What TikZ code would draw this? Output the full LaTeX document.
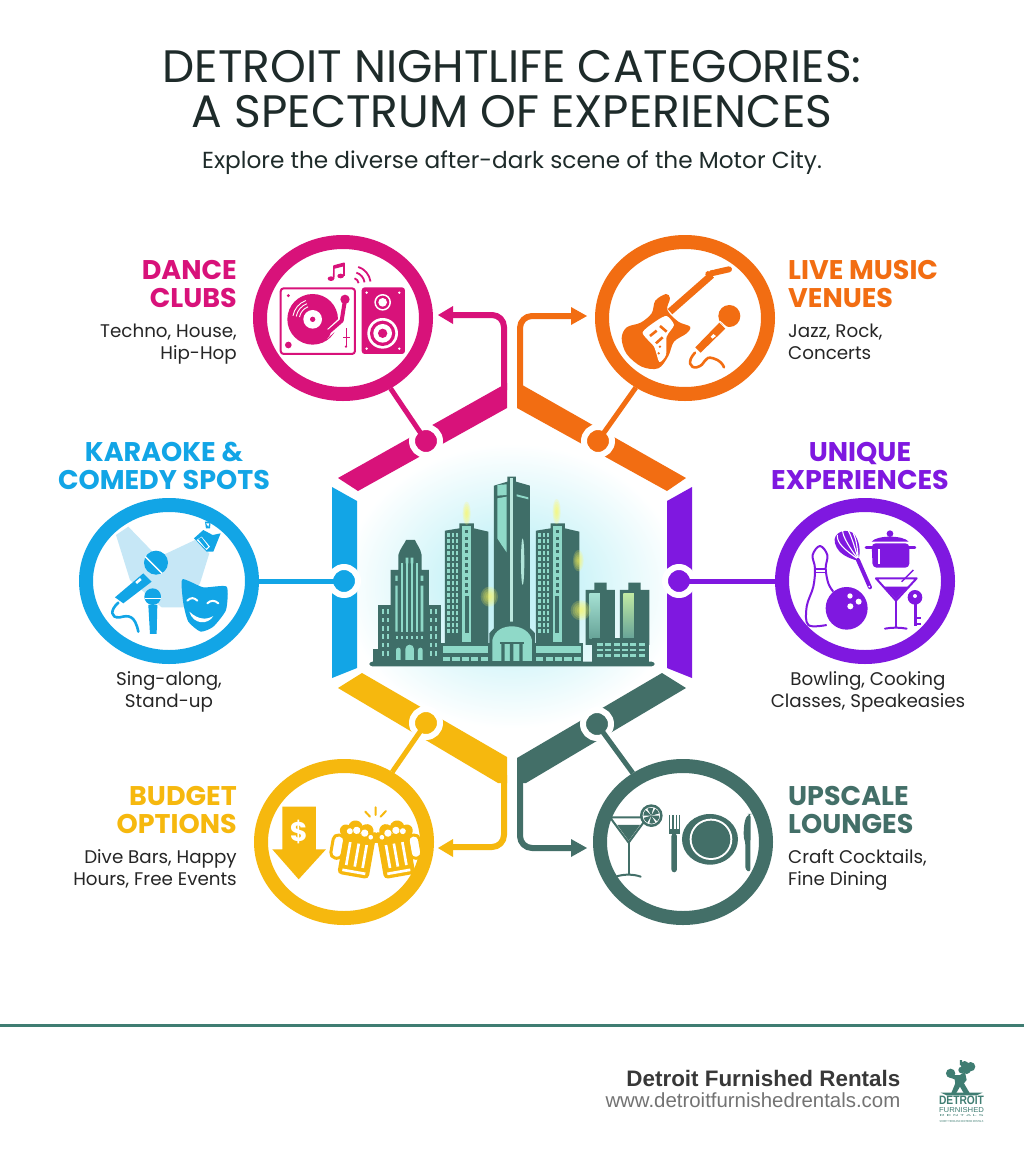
\documentclass[tikz,border=0pt]{standalone}
\usepackage{fontspec}
\usepackage{graphicx}
\usetikzlibrary{shapes.geometric}
\setmainfont{Poppins}
\newfontfamily\footfont{Liberation Sans}
\definecolor{cMag}{HTML}{D8127A}
\definecolor{cOra}{HTML}{F26D12}
\definecolor{cBlu}{HTML}{12A5E6}
\definecolor{cPur}{HTML}{7F18E0}
\definecolor{cYel}{HTML}{F6B80E}
\definecolor{cGrn}{HTML}{436F68}
\definecolor{cTeal}{HTML}{3F6E68}
\definecolor{cLite}{HTML}{8FD9C8}
\definecolor{cBeam}{HTML}{C6E7F6}
\definecolor{cTitle}{HTML}{1E2B2A}
\definecolor{cFoot}{HTML}{3F7D72}
\pgfdeclareradialshading{cityglow}{\pgfpoint{0bp}{0bp}}{rgb(0bp)=(0.76,0.95,0.97);rgb(7bp)=(0.78,0.95,0.97);rgb(15bp)=(0.89,0.975,0.985);rgb(23bp)=(1,1,1);rgb(50bp)=(1,1,1)}
\newcommand{\fs}[1]{\fontsize{#1}{#1}\selectfont}
\newcommand{\sparkle}[4]{\foreach \f in {1,0.8,0.6,0.4,0.2}{\fill[yellow!65!white,opacity=0.2] (#1,#2) ellipse [x radius=\f*#3,y radius=\f*#4];}}
\tikzset{
  ring/.style={ellipse,draw=#1,line width=14pt,fill=white,minimum width=166pt,minimum height=152pt,inner sep=0pt},
  hub/.style={circle,fill=#1,draw=white,line width=6pt,minimum size=28pt,inner sep=0pt},
  band/.style={fill=#1},
  link/.style={draw=#1,line width=5pt},
  flow/.style={draw=#1,line width=6pt,rounded corners=12pt},
  head/.style={fill=#1},
  caphead/.style={inner sep=0pt,font={\fontsize{27}{28}\selectfont\bfseries},text=#1},
  body/.style={inner sep=0pt,font={\fontsize{18.3}{22}\selectfont},text=black!85,align=#1},
  tr/.style={shift={#1},x=0.3333pt,y=-0.3333pt},
}
\begin{document}
\begin{tikzpicture}[x=1pt,y=-1pt,line join=round]
\useasboundingbox (0,0) rectangle (1024,1154);
\fill[white] (0,0) rectangle (1024,1154);

% glow
\shade[shading=cityglow] (512,586) ellipse [x radius=185,y radius=155];

% title
\node[inner sep=0pt,anchor=north,align=center,text=cTitle,font={\fontsize{45.5}{45}\selectfont}] (title) at (512,50) {DETROIT NIGHTLIFE CATEGORIES:\\A SPECTRUM OF EXPERIENCES};
\node[inner sep=0pt,anchor=base,text=cTitle,font=\fs{23.2}] (subtitle) at (512,168.5) {Explore the diverse after-dark scene of the Motor City.};

% hexagon bands
\fill[band=cMag] (338,478) -- (507,383) -- (507,408) -- (358,491) -- cycle;
\fill[band=cOra] (517,382) -- (686,478) -- (667,491) -- (517,408) -- cycle;
\fill[band=cPur] (692,487) -- (692,678) -- (667,668) -- (667,501) -- cycle;
\fill[band=cBlu] (332,487) -- (357,501) -- (357,668) -- (332,678) -- cycle;
\fill[band=cYel] (338,688) -- (362,673) -- (507,757) -- (507,783) -- (498,783) -- cycle;
\fill[band=cGrn] (517,758) -- (662,673) -- (686,688) -- (526,783) -- (517,783) -- cycle;

% ring nodes
\node[ring=cMag] (rMag) at (343,318) {};
\node[ring=cOra] (rOra) at (685,318) {};
\node[ring=cBlu] (rBlu) at (169,581) {};
\node[ring=cPur] (rPur) at (865,581) {};
\node[ring=cYel] (rYel) at (344,842) {};
\node[ring=cGrn] (rGrn) at (683,842) {};

% hubs
\node[hub=cMag] (hMag) at (426,441) {};
\node[hub=cOra] (hOra) at (598,441) {};
\node[hub=cBlu] (hBlu) at (344,581) {};
\node[hub=cPur] (hPur) at (679,581) {};
\node[hub=cYel] (hYel) at (426,723) {};
\node[hub=cGrn] (hGrn) at (597,724) {};

% hub links
\draw[link=cMag] (hMag.center) -- (rMag);
\draw[link=cOra] (hOra.center) -- (rOra);
\draw[link=cBlu] (hBlu.center) -- (rBlu);
\draw[link=cPur] (hPur.center) -- (rPur);
\draw[link=cYel] (hYel.center) -- (rYel);
\draw[link=cGrn] (hGrn.center) -- (rGrn);

% flow connectors
\coordinate (sMag) at (504,390); \coordinate (tMag) at (452,315);
\coordinate (sOra) at (520,390); \coordinate (tOra) at (572,316);
\coordinate (sYel) at (504,775); \coordinate (tYel) at (452,847);
\coordinate (sGrn) at (520,775); \coordinate (tGrn) at (572,848);
\draw[flow=cMag] (sMag) |- (tMag);
\draw[flow=cOra] (sOra) |- (tOra);
\draw[flow=cYel] (sYel) |- (tYel);
\draw[flow=cGrn] (sGrn) |- (tGrn);
\fill[head=cMag] (438,315) -- (453,306) -- (453,324) -- cycle;
\fill[head=cOra] (587,316) -- (571,307) -- (571,325) -- cycle;
\fill[head=cYel] (438,848) -- (453,839) -- (453,857) -- cycle;
\fill[head=cGrn] (587,848) -- (571,839) -- (571,857) -- cycle;

% === labels ===
\node[caphead=cMag,align=right,anchor=north east] (lMag) at (237,260) {DANCE\\CLUBS};
\node[body=right,anchor=north east] (bMag) at (237,323.5) {Techno, House,\\Hip-Hop};
\node[caphead=cOra,align=left,anchor=north west] (lOra) at (788,260) {LIVE MUSIC\\VENUES};
\node[body=left,anchor=north west] (bOra) at (788,323.5) {Jazz, Rock,\\Concerts};
\node[caphead=cBlu,align=center,anchor=north] (lBlu) at (164,442) {KARAOKE \&\\COMEDY SPOTS};
\node[body=center,anchor=north] (bBlu) at (169,671.5) {Sing-along,\\Stand-up};
\node[caphead=cPur,align=center,anchor=north] (lPur) at (860,442) {UNIQUE\\EXPERIENCES};
\node[body=center,anchor=north] (bPur) at (868,671.5) {Bowling, Cooking\\Classes, Speakeasies};
\node[caphead=cYel,align=right,anchor=north east] (lYel) at (237,786) {BUDGET\\OPTIONS};
\node[body=right,anchor=north east] (bYel) at (237,849.5) {Dive Bars, Happy\\Hours, Free Events};
\node[caphead=cGrn,align=left,anchor=north west] (lGrn) at (788,786) {UPSCALE\\LOUNGES};
\node[body=left,anchor=north west] (bGrn) at (788,849.5) {Craft Cocktails,\\Fine Dining};

% === magenta icon ===
\begin{scope}[tr={(240,230)}]
\draw[cMag,line width=2pt,fill=white,rounded corners=3pt] (122,175) rectangle (345,372);
\fill[cMag] (218,268) circle [radius=76];
\foreach \r in {40,50,60}{\draw[white,line width=0.9pt] ([shift={(218,268)}]-110:\r) arc[start angle=-110,end angle=-170,radius=\r];}
\fill[white] (218,268) circle [radius=28];
\fill[cMag] (218,268) circle [radius=8];
\draw[white,line width=7pt,line cap=round] (315,215) -- (305,272) -- (255,318);
\draw[cMag,line width=4pt,line cap=round] (315,210) -- (305,272) -- (250,320);
\fill[cMag] (315,208) circle [radius=14];
\draw[cMag,line width=9pt,line cap=round] (258,310) -- (248,320);
\fill[cMag] (145,197) circle [radius=5] (145,345) circle [radius=10] (318,350) circle [radius=4];
\draw[cMag,line width=1.5pt] (320,295) -- (320,350);
\draw[cMag,line width=1.5pt] (310,322) -- (330,322);
\fill[cMag,rounded corners=3pt] (365,172) rectangle (495,372);
\fill[white] (428,217) circle [radius=25];
\fill[cMag] (428,217) circle [radius=20];
\fill[white] (428,217) circle [radius=13];
\fill[white] (428,310) circle [radius=46];
\fill[cMag] (428,310) circle [radius=38];
\fill[white] (428,310) circle [radius=28];
\fill[cMag] (428,310) circle [radius=14];
\fill[white] (380,188) circle [radius=4] (478,188) circle [radius=4] (380,356) circle [radius=4] (478,356) circle [radius=4];
% note
\fill[cMag] (273,146) ellipse [x radius=10,y radius=7] (302,138) ellipse [x radius=10,y radius=7];
\draw[cMag,line width=1.6pt] (281,146) -- (282,108) -- (312,100) -- (312,138);
\draw[cMag,line width=3pt] (282,112) -- (312,104);
% arcs
\foreach \r in {18,36,54}{\draw[cMag,line width=1.8pt] ([shift={(338,162)}]-8:\r) arc[start angle=-8,end angle=-72,radius=\r];}
\end{scope}

% === orange icon ===
\begin{scope}[tr={(510,230)}]
\draw[cOra,line width=7pt] (480,245) -- (605,135);
\draw[cOra,line width=6pt,line cap=round] (595,132) -- (657,118);
\fill[white] (597,122) circle [radius=3] (611,116) circle [radius=3] (625,111) circle [radius=3] (638,106) circle [radius=3];
\fill[cOra] plot[smooth cycle,tension=0.55] coordinates {(335,325) (350,292) (392,278) (425,250) (436,212) (468,192) (480,205) (472,240) (505,275) (540,290) (530,310) (492,335) (475,378) (445,415) (395,410) (350,372)};
\fill[white] plot[smooth cycle,tension=0.4] coordinates {(398,308) (440,272) (470,258) (492,285) (470,320) (468,375) (448,396) (432,350)};
\draw[cOra,line width=2.6pt] (420,318) -- (440,302) (438,340) -- (458,322) (470,305) -- (450,288);
\fill[cOra] (450,350) circle [radius=4] (446,370) circle [radius=4];
% mic
\fill[cOra] (658,258) circle [radius=33];
\fill[cOra] (628,278) -- (646,296) -- (572,368) -- (556,352) -- cycle;
\draw[white,line width=1pt] (630,274) -- (652,294);
\fill[white] (610,312) -- (618,318) -- (608,326) -- (602,320) -- cycle;
\draw[cOra,line width=2.6pt,line cap=round] (555,368) .. controls (530,395) and (540,415) .. (560,412) .. controls (590,405) and (580,375) .. (610,385) .. controls (630,390) and (640,405) .. (642,412);
\end{scope}

% === blue icon ===
\begin{scope}[tr={(70,490)}]
\fill[cBeam] (138,135) -- (175,110) -- (262,200) -- (290,190) -- (375,150) -- (418,190) -- (390,280) -- (340,352) -- (275,352) -- (180,270) -- cycle;
\fill[cBlu] (258,218) circle [radius=36];
\draw[white,line width=1.4pt] (226,200) -- (276,250);
\fill[cBlu] (220,250) -- (245,275) -- (160,340) -- (135,322) -- cycle;
\fill[white] (196,276) -- (210,264) -- (215,270) -- (201,282) -- cycle;
\draw[cBlu,line width=2.6pt,line cap=round] (145,338) .. controls (120,360) and (120,385) .. (150,382) .. controls (175,375) and (195,375) .. (205,425);
\fill[cBlu] (248,320) circle [radius=25];
\draw[white,line width=1.2pt] (225,325) -- (272,325);
\fill[cBlu] (235,345) -- (262,345) -- (260,432) -- (240,432) -- cycle;
\fill[cBlu] plot[smooth cycle,tension=0.35] coordinates {(337,268) (400,292) (470,290) (468,360) (430,410) (392,425) (355,395) (340,340)};
\draw[white,line width=2pt,line cap=round] (352,332) .. controls (362,322) and (372,322) .. (382,332) (412,340) .. controls (422,330) and (435,330) .. (445,340);
\fill[white] (358,365) .. controls (385,390) and (410,390) .. (430,378) .. controls (415,405) and (370,405) .. (358,365) -- cycle;
% spotlight
\fill[cBlu] (372,145) -- (400,120) -- (428,135) -- (452,130) -- (430,185) -- (410,185) -- cycle;
\fill[white] (380,150) -- (395,140) -- (420,170) -- (410,180) -- cycle;
\fill[cBlu] (385,148) -- (394,142) -- (415,170) -- (408,176) -- cycle;
\fill[cBlu] (405,95) -- (422,95) -- (420,115) -- (408,115) -- cycle;
\fill[white] (408,100) -- (418,100) -- (415,110) -- cycle;
\end{scope}

% === purple icon ===
\begin{scope}[tr={(660,490)}]
% pin
\draw[cPur,line width=2pt,fill=white] plot[smooth,tension=0.6] coordinates {(500,405) (445,405) (440,350) (460,290) (465,235) (458,195) (480,168) (502,195) (497,235) (505,280) (520,305)};
\fill[cPur] (463,235) rectangle (498,250);
\fill[white] (468,240) rectangle (494,246);
% ball
\fill[cPur] (560,355) ellipse [x radius=63,y radius=64];
\fill[white] (570,318) circle [radius=8] (596,335) circle [radius=9] (571,349) circle [radius=9];
% whisk
\fill[cPur] (525,160) .. controls (515,125) and (565,110) .. (585,135) .. controls (605,165) and (600,205) .. (592,212) .. controls (570,205) and (535,195) .. (525,160) -- cycle;
\draw[white,line width=1.1pt] (595,208) .. controls (555,180) and (530,160) .. (532,135);
\draw[white,line width=1.1pt] (595,208) .. controls (570,175) and (548,140) .. (548,122);
\draw[white,line width=1.1pt] (595,208) .. controls (585,175) and (575,140) .. (565,122);
\draw[white,line width=1.1pt] (595,208) .. controls (592,175) and (590,150) .. (580,130);
\draw[cPur,line width=4pt,line cap=round] (594,210) -- (630,292);
\fill[white] (628,290) circle [radius=3];
% pot
\fill[cPur,rounded corners=4pt] (635,160) -- (748,160) -- (748,233) -- (638,233) -- cycle;
\draw[cPur,line width=2.5pt,line cap=round] (618,172) -- (765,172);
\fill[cPur] (635,155) .. controls (650,135) and (730,135) .. (746,155) -- cycle;
\fill[cPur] (690,131) circle [radius=10];
\draw[white,line width=0.8pt] (637,157) -- (746,157);
\fill[white] (655,176) rectangle (660,222);
% glass
\fill[white] (648,265) -- (770,265) -- (708,330) -- cycle;
\draw[cPur,line width=2pt] (648,265) -- (770,265) -- (708,332) -- cycle;
\fill[cPur] (672,290) -- (745,290) -- (708,328) -- cycle;
\draw[cPur,line width=1.5pt] (725,275) -- (760,240);
\draw[cPur,line width=2.2pt] (708,330) -- (708,412);
\draw[cPur,line width=2pt,line cap=round] (675,416) .. controls (695,412) and (720,412) .. (740,416);
% key
\fill[cPur] (765,322) circle [radius=22];
\fill[white] (765,318) circle [radius=6];
\draw[cPur,line width=2.6pt] (767,340) -- (767,408);
\draw[cPur,line width=2pt] (767,385) -- (782,385) (767,403) -- (782,403);
\end{scope}

% === yellow icon ===
\begin{scope}[tr={(240,670)}]
\fill[cYel] (127,410) -- (228,410) -- (228,538) -- (258,538) -- (176,628) -- (97,538) -- (127,538) -- cycle;
\node[inner sep=0pt,font={\fs{27}\bfseries},text=white] (dollar) at (176,485) {\$};
% left mug
\begin{scope}[shift={(350,540)},rotate=-10,x=0.3333pt,y=-0.3333pt]
\draw[cYel,line width=3pt,fill=white,rounded corners=5pt] (-75,-35) rectangle (-40,35);
\fill[cYel,rounded corners=4pt] (-45,-50) rectangle (50,80);
\foreach \x in {-23,3,27}{\fill[white] (\x-4,-20) rectangle (\x+4,50);}
\fill[white] (-32,62) rectangle (38,70);
\fill[cYel] (-42,-52) circle [radius=18] (-15,-65) circle [radius=22] (20,-62) circle [radius=20] (45,-45) circle [radius=17];
\fill[white] (-30,-52) circle [radius=9] (-10,-58) circle [radius=11] (15,-54) circle [radius=11] (35,-45) circle [radius=7];
\end{scope}
% right mug
\begin{scope}[shift={(468,540)},rotate=10,x=0.3333pt,y=-0.3333pt]
\draw[cYel,line width=3pt,fill=white,rounded corners=5pt] (75,-35) rectangle (40,35);
\fill[cYel,rounded corners=4pt] (-50,-50) rectangle (45,80);
\foreach \x in {-27,-3,23}{\fill[white] (\x-4,-20) rectangle (\x+4,50);}
\fill[white] (-38,62) rectangle (32,70);
\fill[cYel] (42,-52) circle [radius=18] (15,-65) circle [radius=22] (-20,-62) circle [radius=20] (-45,-45) circle [radius=17];
\fill[white] (30,-52) circle [radius=9] (10,-58) circle [radius=11] (-15,-54) circle [radius=11] (-35,-45) circle [radius=7];
\end{scope}
\draw[cYel,line width=2pt,line cap=round] (376,425) -- (390,440) (407,412) -- (407,435) (438,423) -- (422,440);
\end{scope}

% === green icon ===
\begin{scope}[tr={(510,670)}]
\draw[cGrn,line width=2pt,fill=white] (300,442) -- (412,442) -- (356,518) -- cycle;
\fill[cGrn] (322,465) -- (390,465) -- (356,512) -- cycle;
\draw[cGrn,line width=2.2pt] (356,518) -- (356,615);
\draw[cGrn,line width=2pt,line cap=round] (318,620) .. controls (340,612) and (370,612) .. (392,620);
\fill[cGrn] (424,437) circle [radius=34];
\fill[white] (424,437) circle [radius=26];
\foreach \a in {0,60,...,300}{\fill[cGrn] (424,437) -- ++(\a:24) arc[start angle=\a,end angle=\a+44,radius=24] -- cycle;}
% fork
\foreach \x in {478,489,500,509}{\draw[cGrn,line width=1.5pt] (\x,435) -- (\x,480);}
\fill[cGrn] (476,478) rectangle (511,492);
\fill[cGrn,rounded corners=3pt] (484,490) rectangle (501,607);
% plate
\fill[cGrn] (600,508) ellipse [x radius=84,y radius=76];
\fill[white] (603,508) ellipse [x radius=64,y radius=62];
\fill[cGrn] (603,508) ellipse [x radius=58,y radius=56];
% knife
\fill[cGrn,rounded corners=3pt] (718,432) .. controls (700,450) and (700,500) .. (706,515) -- (706,600) -- (721,607) -- (722,432) -- cycle;
\end{scope}

% === city ===
\begin{scope}[tr={(360,465)}]
% towers behind
\fill[cTeal] (255,197) -- (298,190) -- (298,175) -- (342,175) -- (342,190) -- (385,200) -- (385,545) -- (255,545) -- cycle;
\fill[cTeal] (528,197) -- (572,190) -- (572,175) -- (615,175) -- (615,190) -- (658,200) -- (658,545) -- (528,545) -- cycle;
\foreach \x in {266,279,292}{\foreach \y in {210,228,...,510}{\fill[cLite] (\x-3.5,\y-5) rectangle (\x+3.5,\y+5);}}
\foreach \x in {539,552,565}{\foreach \y in {210,228,...,510}{\fill[cLite] (\x-3.5,\y-5) rectangle (\x+3.5,\y+5);}}
\fill[cLite] (306,182) rectangle (332,530);
\fill[cLite] (579,182) rectangle (605,530);
\foreach \y in {195,215,...,375}{\fill[cTeal] (315,\y) rectangle (325,\y+10); \fill[cTeal] (587,\y) rectangle (597,\y+10);}
\fill[cTeal] (314,392) rectangle (326,505); \fill[cTeal] (586,392) rectangle (598,505);
% central tower
\fill[cTeal] (402,62) -- (442,50) -- (442,35) -- (468,35) -- (468,50) -- (510,62) -- (510,500) -- (402,500) -- cycle;
\fill[cLite] (412,60) -- (440,58) -- (440,90) -- (412,92) -- cycle;
\fill[cLite] (412,100) -- (440,95) -- (440,262) -- (425,240) -- (412,220) -- cycle;
\fill[cLite] (470,88) -- (505,97) -- (505,103) -- (470,94) -- cycle;
\fill[cLite!60!white] (450,38) rectangle (459,470);
\fill[cLite!70!white] (488,290) ellipse [x radius=5,y radius=70];
% left classic building
\fill[cTeal] (55,420) rectangle (243,592);
\fill[cTeal] (92,315) -- (115,315) -- (115,270) .. controls (120,250) and (135,235) .. (138,225) -- (165,225) .. controls (168,235) and (182,250) .. (185,270) -- (185,315) -- (207,315) -- (207,592) -- (92,592) -- cycle;
\foreach \x in {122,137,152,167}{\fill[cLite] (\x,295) rectangle (\x+8,500);}
\fill[cLite] (137,278) rectangle (145,295) (152,278) rectangle (160,295);
\fill[cLite] (106,362) rectangle (113,500) (182,362) rectangle (190,500);
\fill[cLite] (106,332) rectangle (113,348) (182,332) rectangle (190,348);
\foreach \x in {70,84,212,227}{\foreach \y in {440,465,...,565}{\fill[cLite] (\x-3,\y-7) rectangle (\x+3,\y+7);}}
\foreach \x in {110,125,...,185}{\fill[cLite] (\x-3,512) rectangle (\x+3,522);}
\fill[cLite] (108,585) -- (108,555) arc[start angle=180,end angle=360,radius=7] -- (122,585) -- cycle;
\fill[cLite] (136,585) -- (136,552) arc[start angle=180,end angle=360,radius=13] -- (162,585) -- cycle;
\fill[cLite] (174,585) -- (174,555) arc[start angle=180,end angle=360,radius=7] -- (188,585) -- cycle;
% right small
\fill[cTeal] (677,375) -- (703,375) -- (703,353) -- (740,353) -- (740,375) -- (765,375) -- (765,540) -- (677,540) -- cycle;
\fill[cTeal] (780,375) -- (805,375) -- (805,353) -- (842,353) -- (842,375) -- (868,375) -- (868,540) -- (780,540) -- cycle;
\shade[top color=cLite!80!white,bottom color=cLite!50!cTeal] (688,385) rectangle (720,520);
\shade[top color=cLite!70!yellow!80!white,bottom color=cLite!50!cTeal] (790,385) rectangle (822,520);
\fill[cTeal] (697,520) rectangle (868,592);
\foreach \x in {720,745,770,795,820,846}{\foreach \y in {538,555,572}{\fill[cLite] (\x-9,\y-4) rectangle (\x+9,\y+4);}}
% wings
\fill[cTeal] (243,535) rectangle (392,592);
\fill[cTeal] (520,535) rectangle (670,592);
\fill[cLite] (248,542) rectangle (385,565);
\fill[cLite] (527,542) rectangle (664,565);
\foreach \x in {260,288,316,344,373}{\fill[cLite] (\x-11,575) rectangle (\x+11,588);}
\foreach \x in {539,568,596,624,652}{\fill[cLite] (\x-11,575) rectangle (\x+11,588);}
% portico dome
\fill[cTeal] (388,592) -- (388,505) .. controls (410,478) and (430,470) .. (455,470) .. controls (480,470) and (505,480) .. (525,505) -- (525,592) -- cycle;
\fill[cLite] (397,588) -- (397,525) .. controls (405,495) and (430,484) .. (456,484) .. controls (485,484) and (510,500) .. (516,525) -- (516,588) -- cycle;
\draw[cTeal,line width=2pt] (420,535) -- (493,535);
\fill[cTeal] (424,535) rectangle (434,588) (450,535) rectangle (460,588) (478,535) rectangle (488,588);
% base
\fill[cTeal,rounded corners=3pt] (28,590) rectangle (884,604);
\fill[cTeal] (40,552) rectangle (56,592);
% sparkles
\sparkle{388}{395}{26}{30}
\sparkle{655}{287}{16}{32}
\sparkle{662}{436}{30}{30}
\sparkle{320}{145}{12}{35}
\sparkle{590}{140}{12}{38}
\end{scope}

% footer
\draw[cFoot,line width=3pt] (0,1025.5) -- (1024,1025.5);
\node[inner sep=0pt,anchor=base east,text=black!78,font={\footfont\fs{22.4}\bfseries}] (brand) at (900.5,1086) {Detroit Furnished Rentals};
\node[inner sep=0pt,anchor=base east,text=black!55,font={\footfont\fs{20.4}}] (site) at (900.5,1107) {www.detroitfurnishedrentals.com};

% logo
\begin{scope}[tr={(600,1020)}]
\fill[cFoot] (1052,160) ellipse [x radius=14,y radius=14];
\fill[cFoot] (1094,135) circle [radius=12] (1112,140) circle [radius=14] (1085,150) circle [radius=10] (1100,150) circle [radius=12];
\fill[cFoot] (1042,150) -- (1062,150) -- (1062,165) -- (1080,165) -- (1095,155) -- (1100,180) -- (1092,190) -- (1112,224) -- (1094,224) -- (1080,200) -- (1066,224) -- (1052,224) -- (1066,190) -- (1064,178) -- (1048,172) -- cycle;
\fill[cFoot] (1080,120) -- (1086,120) -- (1088,135) -- (1080,135) -- cycle;
\fill[cFoot] (1022,218) -- (1148,218) -- (1130,226) -- (1040,226) -- cycle;
\end{scope}
\node[inner sep=0pt,text=cFoot,font={\footfont\bfseries}] (logoA) at (961.5,1100.5) {\resizebox{45pt}{8.5pt}{DETROIT}};
\node[inner sep=0pt,text=cFoot,font={\footfont}] (logoB) at (961.5,1110) {\resizebox{45pt}{5pt}{FURNISHED}};
\node[inner sep=0pt,text=cFoot,font={\footfont}] (logoC) at (961.5,1115.5) {\resizebox{44pt}{2pt}{R\ E\ N\ T\ A\ L\ S}};
\node[inner sep=0pt,text=cFoot,font={\footfont}] (logoD) at (961.5,1122) {\resizebox{44pt}{2pt}{SHORT TERM AND MIDTERM RENTALS}};
\end{tikzpicture}
\end{document}
